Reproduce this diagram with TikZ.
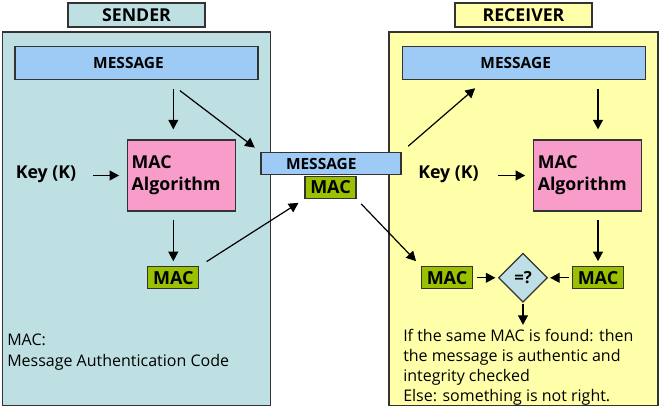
\documentclass[tikz,border=0pt]{standalone}
\usepackage{fontspec}
\setmainfont{Open Sans}
\usetikzlibrary{arrows.meta,shapes.geometric}
\definecolor{senderbg}{HTML}{BEE0E3}
\definecolor{receiverbg}{HTML}{FFFFAA}
\definecolor{msgblue}{HTML}{9DCBF6}
\definecolor{algpink}{HTML}{F89DCA}
\definecolor{macgreen}{HTML}{99C100}
\definecolor{cmpblue}{HTML}{BEDFE6}
\definecolor{framegray}{HTML}{333333}

\tikzset{
  panel/.style={draw=framegray, line width=1.1pt, fill=#1},
  tag/.style={draw=framegray, line width=0.9pt, fill=#1, minimum width=102.75pt,
    minimum height=18pt, inner sep=0pt, font=\fontsize{13.3}{16}\selectfont\bfseries},
  msgbar/.style={draw=framegray, line width=0.9pt, fill=msgblue, minimum width=182.25pt,
    minimum height=24.75pt, inner sep=0pt, font=\fontsize{11.6}{14}\selectfont\bfseries,
    execute at end node={\hspace*{12pt}}},
  transit/.style={draw=framegray, line width=0.9pt, fill=msgblue, minimum height=16.5pt,
    text width=67.5pt, inner xsep=18.75pt, inner ysep=0pt, align=left,
    font=\fontsize{11.6}{14}\selectfont\bfseries},
  algbox/.style={draw=framegray, line width=0.9pt, fill=algpink, text width=75pt,
    inner xsep=3pt, minimum height=53.25pt, align=left,
    font=\fontsize{13.3}{16.5}\selectfont\bfseries},
  macbox/.style={draw=framegray, line width=0.9pt, fill=macgreen, minimum width=38.25pt,
    minimum height=16.5pt, inner sep=0pt, font=\fontsize{13.5}{16}\selectfont\bfseries},
  cmpbox/.style={diamond, draw=framegray, line width=0.9pt, fill=cmpblue, aspect=1,
    minimum size=36.75pt, inner sep=0pt, font=\fontsize{12.5}{14}\selectfont\bfseries},
  keylbl/.style={inner sep=0pt, font=\fontsize{13.3}{16}\selectfont\bfseries},
  note/.style={anchor=north west, inner sep=0pt, align=left},
  flow/.style={-{Triangle[length=7.2pt,width=7.5pt]}, line width=0.9pt,
    shorten <=6pt, shorten >=4pt}
}

\begin{document}
\begin{tikzpicture}[x=0.75pt,y=0.75pt,yscale=-1,xscale=1]
\useasboundingbox (0,0) rectangle (661,409);
% panels
\draw[panel=senderbg] (2.5,32) rectangle (270.5,405.5);
\draw[panel=receiverbg] (389,32) rectangle (658,405.5);
% sender
\node[tag=senderbg] (sendertag) at (136.5,15) {SENDER};
\node[msgbar] (smsg) at (136.5,63.3) {MESSAGE};
\node[algbox] (salg) at (181.7,175.5) {MAC\\Algorithm};
\node[keylbl] (skey) at (46,174) {Key (K)};
\node[macbox] (smac) at (173.3,277.8) {MAC};
\node[note, font=\fontsize{12}{15.75}\selectfont] (snote) at (7,334) {MAC:\\Message Authentication Code};
% sent over
\node[transit] (tmsg) at (331,163.5) {MESSAGE};
\node[macbox] (tmac) at (330.5,187.5) {MAC};
% receiver
\node[tag=receiverbg] (receivertag) at (523.5,15) {RECEIVER};
\node[msgbar] (rmsg) at (523.7,63.3) {MESSAGE};
\node[algbox] (ralg) at (587.8,175.5) {MAC\\Algorithm};
\node[keylbl] (rkey) at (448.5,174) {Key (K)};
\node[macbox] (rmacl) at (447,277.8) {MAC};
\node[macbox] (rmacr) at (598,277.8) {MAC};
\node[cmpbox] (cmp) at (523,277.8) {=?};
\node[note, font=\fontsize{12}{15}\selectfont] (rnote) at (403,329) {If the same MAC is found: then\\the message is authentic and\\integrity checked\\Else: something is not right.};
% arrows, sender
\draw[flow, shorten <=6.75pt, shorten >=7.5pt] (smsg.south -| smac) -- (salg.north -| smac);
\draw[flow, shorten <=12.75pt, shorten >=6pt] (salg.west -| skey.east) -- (salg.west);
\draw[flow, shorten <=6pt, shorten >=3.75pt] (salg.south -| smac) -- (smac.north);
\draw[flow, shorten <=12.6pt, shorten >=5.3pt] ([xshift=22.5pt]smsg.south) -- (tmsg.north west);
\draw[flow, shorten <=6.4pt, shorten >=5.25pt] (smac.north east) -- (tmac.south west);
% arrows, receiver
\draw[flow, shorten <=5pt, shorten >=5.25pt] (tmac.south east) -- (rmacl.north west);
\draw[flow, shorten <=6.5pt, shorten >=9pt] (tmsg.north east) -- ([xshift=-29.6pt]rmsg.south);
\draw[flow, shorten <=6.75pt, shorten >=7.5pt] (rmsg.south -| rmacr) -- (ralg.north -| rmacr);
\draw[flow, shorten <=14.25pt, shorten >=6pt] (ralg.west -| rkey.east) -- (ralg.west);
\draw[flow, shorten <=6pt, shorten >=3.75pt] (ralg.south -| rmacr) -- (rmacr.north);
\draw[flow, shorten <=3pt, shorten >=1.9pt] (rmacl.east) -- (cmp.west);
\draw[flow, shorten <=2.25pt, shorten >=1.5pt] (rmacr.west) -- (cmp.east);
\draw[flow, shorten <=0.75pt, shorten >=0pt] (cmp.south) -- ++(0,22);
\end{tikzpicture}
\end{document}
